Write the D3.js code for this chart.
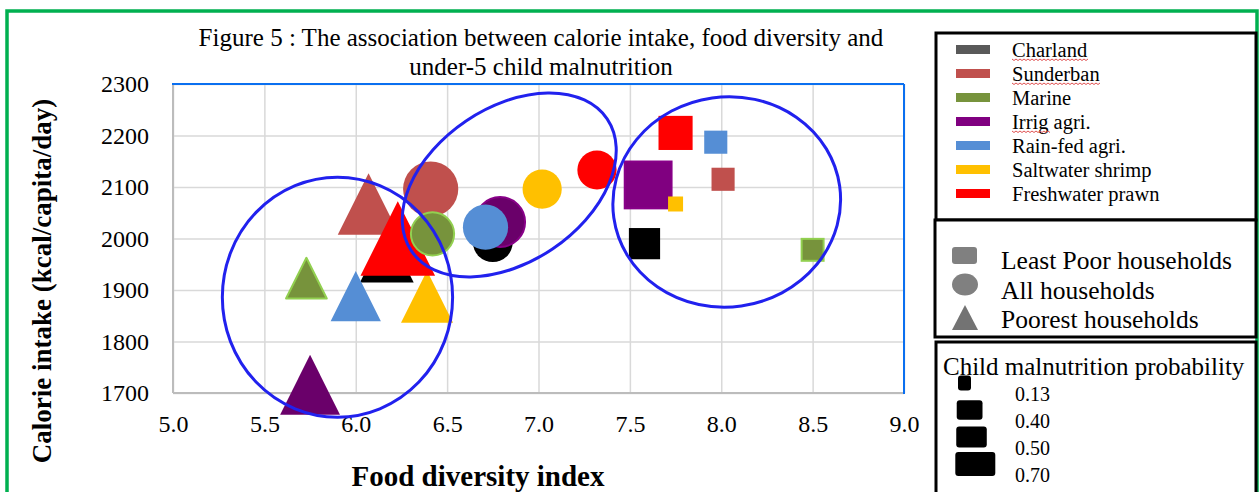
<!DOCTYPE html>
<html>
<head>
<meta charset="utf-8">
<script src="https://cdn.jsdelivr.net/npm/d3@7"></script>
<style>
body { margin: 0; background: #fff; }
text { font-family: "Liberation Serif", "Times New Roman", serif; fill: #000; }
</style>
</head>
<body>
<svg id="chart" width="1260" height="492"></svg>
<script>
// regions (series) and their colours
var regions = ["Charland", "Sunderban", "Marine", "Irrig agri.", "Rain-fed agri.", "Saltwater shrimp", "Freshwater prawn"];
var regionFill = ["#000000", "#c0504d", "#77933c", "#6a006a", "#558ed5", "#ffc000", "#ff0000"];
var regionStroke = [null, null, "#92d050", "#880088", null, null, null];
var legendBarColor = ["#595959", "#c0504d", "#77933c", "#800080", "#558ed5", "#ffc000", "#ff0000"];

var householdTypes = ["Least Poor households", "All households", "Poorest households"];

// food diversity index / calorie intake / child malnutrition probability, one value per region
var poorestFDI  = [6.17, 6.07, 5.73, 5.75, 6.00, 6.39, 6.23];
var poorestKcal = [1967, 2067, 1923, 1716, 1888, 1887, 2000];
var poorestMal  = [0.49, 0.58, 0.34, 0.56, 0.45, 0.47, 0.73];

var allFDI  = [6.75, 6.41, 6.42, 6.79, 6.71, 7.02, 7.32];
var allKcal = [1993, 2096, 2009, 2032, 2022, 2096, 2133];
var allMal  = [0.47, 0.70, 0.52, 0.62, 0.55, 0.46, 0.46];

var leastFDI  = [7.58, 8.01, 8.50, 7.60, 7.97, 7.75, 7.75];
var leastKcal = [1990, 2115, 1978, 2104, 2187, 2067, 2205];
var leastMal  = [0.41, 0.27, 0.25, 0.68, 0.27, 0.13, 0.46];

var xTicks = [5.0, 5.5, 6.0, 6.5, 7.0, 7.5, 8.0, 8.5, 9.0];
var yTicks = [1700, 1800, 1900, 2000, 2100, 2200, 2300];
var malLegend = [0.13, 0.40, 0.50, 0.70];

// the three groups circled on the chart (data units)
var clusterFDI  = [5.90, 6.84, 8.03];
var clusterKcal = [1886, 2104, 2071];
var clusterRadFDI  = [0.63, 0.646, 0.624];
var clusterRadKcal = [233, 150, 204];
var clusterTilt = [0, -34, -8];

var titleLines = ["Figure 5 : The association between calorie intake, food diversity and", "under-5 child malnutrition"];

var svg = d3.select("#chart");

var plotL = 173, plotR = 904, plotT = 84, plotB = 393;
var x = d3.scaleLinear().domain([5, 9]).range([plotL, plotR]);
var y = d3.scaleLinear().domain([1700, 2300]).range([plotB, plotT]);
var markerSize = d3.scaleLinear().domain([0.13, 0.70]).range([15, 48]);

// outer green frame
svg.append("rect")
	.attr("x", 7).attr("y", 11)
	.attr("width", 1250).attr("height", 530)
	.attr("fill", "none")
	.attr("stroke", "#00b050")
	.attr("stroke-width", 3.5);

// grid + tick labels
var gx = svg.append("g")
	.attr("transform", "translate(0," + plotB + ")")
	.call(d3.axisBottom(x).tickValues(xTicks).tickSize(-(plotB - plotT)).tickPadding(22).tickFormat(d3.format(".1f")));
var gy = svg.append("g")
	.attr("transform", "translate(" + plotL + ",0)")
	.call(d3.axisLeft(y).tickValues(yTicks).tickSize(-(plotR - plotL)).tickPadding(24).tickFormat(d3.format("d")));

[gx, gy].forEach(function(g) {
	g.attr("font-family", null).attr("font-size", null);
	g.select(".domain").remove();
	g.selectAll(".tick line").attr("stroke", "#d9d9d9").attr("stroke-width", 1.5);
	g.selectAll(".tick text").attr("font-size", 24).attr("fill", "#000");
});

// plot frame: grey axes, blue top and right
svg.append("line").attr("x1", plotL).attr("x2", plotR).attr("y1", plotB).attr("y2", plotB)
	.attr("stroke", "#bcbcbc").attr("stroke-width", 2);
svg.append("line").attr("x1", plotL).attr("x2", plotL).attr("y1", plotT).attr("y2", plotB)
	.attr("stroke", "#bcbcbc").attr("stroke-width", 2);
svg.append("line").attr("x1", plotL - 1).attr("x2", plotR).attr("y1", plotT).attr("y2", plotT)
	.attr("stroke", "#0a6ff0").attr("stroke-width", 2);
svg.append("line").attr("x1", plotR).attr("x2", plotR).attr("y1", plotT).attr("y2", plotB + 1)
	.attr("stroke", "#0a6ff0").attr("stroke-width", 2);

function styleMarker(sel) {
	sel.attr("fill", function(d) { return regionFill[d.i]; })
		.attr("stroke", function(d) { return regionStroke[d.i] || "none"; })
		.attr("stroke-width", 2);
}

function pack(fdi, kcal, mal) {
	return regions.map(function(r, i) {
		return {i: i, fdi: fdi[i], kcal: kcal[i], mal: mal[i]};
	});
}

var marks = svg.append("g");

// poorest households: triangles
marks.append("g").selectAll("path")
	.data(pack(poorestFDI, poorestKcal, poorestMal))
	.enter().append("path")
		.attr("d", function(d) {
			var w = markerSize(d.mal) * 1.5, h = w;
			var cx = x(d.fdi), cy = y(d.kcal);
			return "M" + cx + "," + (cy - h / 2) + "L" + (cx + w / 2) + "," + (cy + h / 2) + "L" + (cx - w / 2) + "," + (cy + h / 2) + "Z";
		})
		.attr("stroke-linejoin", "round")
		.call(styleMarker)
		.attr("stroke", function(d) { return d.i == 2 ? regionStroke[d.i] : "none"; });

// all households: circles
marks.append("g").selectAll("circle")
	.data(pack(allFDI, allKcal, allMal))
	.enter().append("circle")
		.attr("cx", function(d) { return x(d.fdi); })
		.attr("cy", function(d) { return y(d.kcal); })
		.attr("r", function(d) { return markerSize(d.mal) * 1.15 / 2; })
		.call(styleMarker);

// least poor households: squares (the Irrig square is the lighter purple)
marks.append("g").selectAll("rect")
	.data(pack(leastFDI, leastKcal, leastMal))
	.enter().append("rect")
		.attr("x", function(d) { return x(d.fdi) - markerSize(d.mal) / 2; })
		.attr("y", function(d) { return y(d.kcal) - markerSize(d.mal) / 2; })
		.attr("width", function(d) { return markerSize(d.mal); })
		.attr("height", function(d) { return markerSize(d.mal); })
		.call(styleMarker)
		.attr("fill", function(d) { return d.i == 3 ? legendBarColor[d.i] : regionFill[d.i]; });

// cluster ellipses
svg.append("g").selectAll("ellipse")
	.data(clusterFDI)
	.enter().append("ellipse")
		.attr("transform", function(d, i) {
			return "translate(" + x(d) + "," + y(clusterKcal[i]) + ") rotate(" + clusterTilt[i] + ")";
		})
		.attr("rx", function(d, i) { return x(d + clusterRadFDI[i]) - x(d); })
		.attr("ry", function(d, i) { return y(clusterKcal[i] - clusterRadKcal[i]) - y(clusterKcal[i]); })
		.attr("fill", "none")
		.attr("stroke", "#2121ee")
		.attr("stroke-width", 3);

// title
svg.append("g").selectAll("text")
	.data(titleLines)
	.enter().append("text")
		.attr("x", 541)
		.attr("y", function(d, i) { return 46 + i * 29; })
		.attr("text-anchor", "middle")
		.attr("font-size", 25)
		.text(function(d) { return d; });

// axis titles
svg.append("text")
	.attr("transform", "translate(51,281) rotate(-90)")
	.attr("text-anchor", "middle")
	.attr("font-size", 27)
	.attr("font-weight", "bold")
	.text("Calorie intake (kcal/capita/day)");

svg.append("text")
	.attr("x", 478).attr("y", 486)
	.attr("text-anchor", "middle")
	.attr("font-size", 29)
	.attr("font-weight", "bold")
	.text("Food diversity index");

// legend boxes
function legendBox(x0, y0, w, h) {
	svg.append("rect")
		.attr("x", x0).attr("y", y0).attr("width", w).attr("height", h)
		.attr("fill", "#fff").attr("stroke", "#000").attr("stroke-width", 3);
}
legendBox(936, 33, 320, 187);
legendBox(935, 220, 321, 117);
legendBox(936, 342, 320, 200);

// legend 1: regions
var leg1 = svg.append("g").selectAll("g")
	.data(regions)
	.enter().append("g")
		.attr("transform", function(d, i) { return "translate(0," + (50 + i * 24) + ")"; });
leg1.append("rect")
	.attr("x", 956).attr("y", -5).attr("width", 34).attr("height", 9)
	.attr("fill", function(d, i) { return legendBarColor[i]; });
leg1.append("text")
	.attr("x", 1012).attr("y", 7)
	.attr("font-size", 20.5)
	.text(function(d) { return d; });

// spell-check squiggles under the words the editor flagged
function squiggle(x0, x1, yy) {
	var p = d3.path();
	p.moveTo(x0, yy);
	for (var xx = x0, k = 0; xx < x1; xx += 2, k++) p.lineTo(xx + 2, yy + (k % 2 ? 0 : 1.5));
	svg.append("path").attr("d", p.toString()).attr("fill", "none").attr("stroke", "#e05050").attr("stroke-width", 1);
}
leg1.each(function(d, i) {
	var word = d.split(" ")[0];
	if (["Charland", "Sunderban", "Irrig"].indexOf(word) < 0) return;
	var t = svg.append("text").attr("font-size", 20.5).text(word);
	var w = t.node().getComputedTextLength();
	t.remove();
	squiggle(1012, 1012 + w, 50 + i * 24 + 9);
});

// legend 2: household type shapes
var leg2 = svg.append("g").selectAll("g")
	.data(householdTypes)
	.enter().append("g")
		.attr("transform", function(d, i) { return "translate(0," + (261 + i * 29.5) + ")"; });
leg2.each(function(d, i) {
	var g = d3.select(this);
	if (i == 0) {
		g.append("rect").attr("x", 952).attr("y", -14).attr("width", 25).attr("height", 17).attr("rx", 3).attr("fill", "#808080");
	} else if (i == 1) {
		g.append("ellipse").attr("cx", 965).attr("cy", -6).attr("rx", 13).attr("ry", 11).attr("fill", "#808080");
	} else {
		g.append("path").attr("d", "M965,-15L978,10L952,10Z").attr("fill", "#737373");
	}
});
leg2.append("text")
	.attr("x", 1001).attr("y", 8)
	.attr("font-size", 25.5)
	.text(function(d) { return d; });

// legend 3: malnutrition probability
svg.append("text")
	.attr("x", 943).attr("y", 375)
	.attr("font-size", 25)
	.text("Child malnutrition probability");

var legW = d3.scaleLinear().domain([0.13, 0.70]).range([13, 40]);
var legH = d3.scaleLinear().domain([0.13, 0.70]).range([15, 24]);
var leg3 = svg.append("g").selectAll("g")
	.data(malLegend)
	.enter().append("g")
		.attr("transform", function(d, i) { return "translate(0," + (394 + i * 27) + ")"; });
leg3.append("rect")
	.attr("x", function(d) { return 958 - (legW(d) - 13) * 0.1; })
	.attr("y", function(d) { return -11 - legH(d) / 2; })
	.attr("width", legW)
	.attr("height", legH)
	.attr("rx", 3)
	.attr("fill", "#000");
leg3.append("text")
	.attr("x", 1015).attr("y", 7)
	.attr("font-size", 20)
	.text(function(d) { return d3.format(".2f")(d); });
</script>
</body>
</html>
